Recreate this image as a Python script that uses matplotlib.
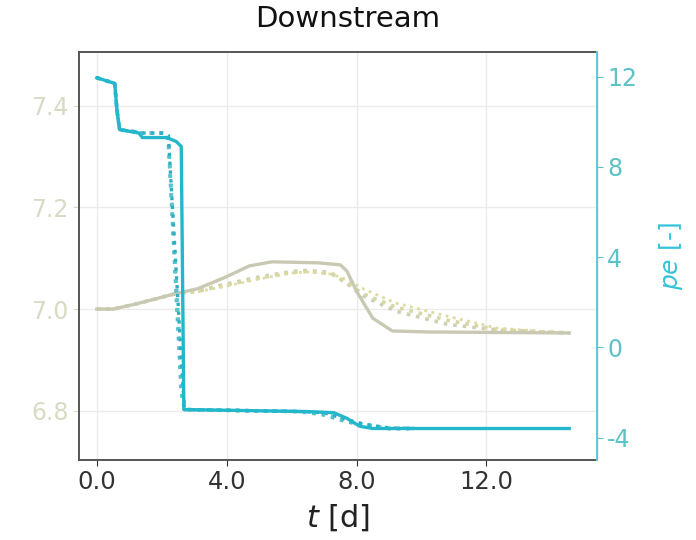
import matplotlib
matplotlib.use("Agg")
import matplotlib.pyplot as plt

plt.rcParams["axes.unicode_minus"] = False

# pH (left axis)
t_ph_solid = [0, 0.5, 1.2, 2.4, 3.1, 3.9, 4.7, 5.4, 6.8, 7.5, 7.7, 8.0, 8.5, 9.1, 10.2, 14.55]
ph_solid = [7.0, 7.0, 7.01, 7.03, 7.04, 7.061, 7.085, 7.093, 7.091, 7.087, 7.075, 7.035, 6.982, 6.957, 6.955, 6.953]

t_ph_dot = [0, 0.5, 1.2, 2.4, 3.1, 3.9, 4.9, 6.0, 6.5, 7.2, 7.7, 8.2, 9.2, 10.8, 12.3, 14.55]
ph_dot_a = [7.0, 7.0, 7.01, 7.03, 7.036, 7.048, 7.062, 7.074, 7.076, 7.072, 7.050, 7.026, 6.996, 6.970, 6.959, 6.953]
ph_dot_b = [7.0, 7.0, 7.01, 7.03, 7.035, 7.046, 7.060, 7.072, 7.074, 7.070, 7.052, 7.030, 7.004, 6.978, 6.960, 6.953]
ph_dot_c = [7.0, 7.0, 7.01, 7.03, 7.034, 7.044, 7.058, 7.071, 7.073, 7.069, 7.058, 7.040, 7.012, 6.986, 6.963, 6.952]

# pe (right axis)
t_pe_solid = [0, 0.55, 0.62, 0.7, 1.1, 1.3, 1.4, 2.15, 2.45, 2.6, 2.68, 6.5, 7.3, 7.7, 8.1, 8.5, 14.55]
pe_solid = [11.95, 11.7, 10.5, 9.65, 9.55, 9.5, 9.3, 9.3, 9.12, 8.9, -2.76, -2.85, -2.9, -3.15, -3.5, -3.6, -3.6]

t_pe_dot = [0, 0.55, 0.62, 0.7, 1.2, 1.3, 2.1, 2.2, 2.6, 2.7, 6.3, 7.0, 7.7, 8.2, 9.0, 9.8]
pe_dot_a = [11.95, 11.7, 10.5, 9.65, 9.55, 9.5, 9.5, 9.2, -2.0, -2.76, -2.85, -3.0, -3.3, -3.45, -3.6, -3.6]
pe_dot_b = [11.95, 11.7, 10.5, 9.65, 9.55, 9.5, 9.5, 9.3, -1.2, -2.76, -2.85, -2.95, -3.25, -3.4, -3.6, -3.6]
pe_dot_c = [11.95, 11.7, 10.5, 9.65, 9.55, 9.5, 9.5, 9.4, -0.5, -2.76, -2.85, -2.9, -3.2, -3.4, -3.58, -3.6]

ph_col = "#c9c9b3"
cyan = "#22b7cb"

fig = plt.figure(figsize=(6.96, 5.4), dpi=100)
ax = fig.add_axes([0.1135, 0.148, 0.744, 0.756])
ax2 = ax.twinx()

ax.plot(t_ph_dot, ph_dot_a, ls=":", lw=2.6, color="#cfcfb4")
ax.plot(t_ph_dot, ph_dot_b, ls=":", lw=2.6, color="#d6d6a6")
ax.plot(t_ph_dot, ph_dot_c, ls=":", lw=2.0, color="#dcdca0")
ax.plot(t_ph_solid, ph_solid, ls="-", lw=2.4, color=ph_col)

ax2.plot(t_pe_dot, pe_dot_a, ls=":", lw=2.6, color="#45b9c9")
ax2.plot(t_pe_dot, pe_dot_b, ls=":", lw=2.6, color="#5cc4cf")
ax2.plot(t_pe_dot, pe_dot_c, ls=":", lw=2.4, color="#2eaec3")
ax2.plot(t_pe_solid, pe_solid, ls="-", lw=2.4, color=cyan)

ax.set_xlim(-0.55, 15.4)
ax.set_ylim(6.703, 7.506)
ax2.set_ylim(-5.0, 13.1)

ax.set_xticks([0, 4, 8, 12])
ax.set_xticklabels(["0.0", "4.0", "8.0", "12.0"])
ax.set_yticks([6.8, 7.0, 7.2, 7.4])
ax.set_yticklabels(["6.8", "7.0", "7.2", "7.4"])
ax2.set_yticks([-4, 0, 4, 8, 12])

ax.grid(True, color="#ebebeb", lw=1.0)
ax.set_axisbelow(True)

ax.tick_params(axis="x", labelsize=17.5, colors="#333333", length=4)
ax.tick_params(axis="y", labelsize=17, colors="#d8dbc3", length=4)
ax2.tick_params(axis="y", labelsize=17, colors="#5cc2c4", length=4)

for s in ["left", "bottom", "top"]:
    ax.spines[s].set_color("#555555")
    ax.spines[s].set_linewidth(1.4)
ax2.spines["right"].set_color("#5ccfdc")
ax2.spines["right"].set_linewidth(1.4)
for s in ["left", "bottom", "top"]:
    ax2.spines[s].set_visible(False)

ax.set_xlabel("$t$ [d]", fontsize=22, color="#222222", labelpad=6)
ax2.set_ylabel("$pe$ [-]", fontsize=18, color="#33c3d8", labelpad=14)
fig.suptitle("Downstream", fontsize=21, y=0.99, color="#111111")

fig.savefig("out.png", dpi=100)
